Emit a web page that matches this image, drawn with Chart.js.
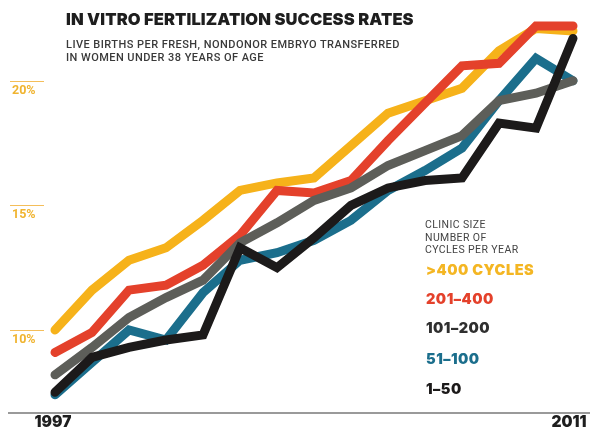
<!DOCTYPE html>
<html>
<head>
<meta charset="utf-8">
<script src="https://cdn.jsdelivr.net/npm/chart.js@4.4.1/dist/chart.umd.min.js"></script>
<style>
  body { margin: 0; background: #fff; }
  #wrap { position: relative; width: 590px; height: 436px; overflow: hidden; }
  .txt { position: absolute; white-space: nowrap; font-family: 'Inter', 'DejaVu Sans', sans-serif; }
  #title { left: 66px; top: 9px; font-size: 16.5px; font-weight: 900; color: #1e1e1e; letter-spacing: 0.1px; }
  #sub { left: 66px; top: 39px; font-size: 11px; line-height: 12.5px; color: #3a3a3a; font-family: 'Roboto', sans-serif; font-weight: 500; letter-spacing: 0.45px; }
  #legHead { left: 425px; top: 219px; font-size: 10.5px; line-height: 12.5px; color: #444; font-family: 'Roboto', sans-serif; letter-spacing: 0.4px; }
  .leg { left: 426px; font-size: 14.5px; font-weight: 900; letter-spacing: 0.5px; }
</style>
</head>
<body>
<div id="wrap">
  <canvas id="ivf" width="590" height="436"></canvas>
  <div class="txt" id="title">IN VITRO FERTILIZATION SUCCESS RATES</div>
  <div class="txt" id="sub">LIVE BIRTHS PER FRESH, NONDONOR EMBRYO TRANSFERRED<br>IN WOMEN UNDER 38 YEARS OF AGE</div>
  <div class="txt" id="legHead">CLINIC SIZE<br>NUMBER OF<br>CYCLES PER YEAR</div>
</div>
<script>
const years = ['1997','1998','1999','2000','2001','2002','2003','2004','2005','2006','2007','2008','2009','2010','2011'];
const seriesNames = ['>400 CYCLES', '201\u2013400', '101\u2013200', '51\u2013100', '1\u201350'];
const over400   = [10.0, 11.6, 12.8, 13.3, 14.4, 15.6, 15.9, 16.1, 17.4, 18.7, 19.2, 19.7, 21.2, 22.1, 22.0];
const c201to400 = [9.1, 9.9, 11.6, 11.8, 12.6, 13.8, 15.6, 15.5, 16.0, 17.6, 19.1, 20.6, 20.7, 22.2, 22.2];
const c101to200 = [8.2, 9.3, 10.5, 11.3, 12.0, 13.5, 14.3, 15.2, 15.7, 16.6, 17.2, 17.8, 19.2, 19.5, 20.0];
const c51to100  = [7.4, 8.7, 10.0, 9.6, 11.5, 12.8, 13.1, 13.6, 14.4, 15.6, 16.4, 17.3, 19.2, 20.9, 20.0];
const c1to50    = [7.5, 8.9, 9.3, 9.6, 9.8, 13.3, 12.5, 13.7, 15.0, 15.7, 16.0, 16.1, 18.3, 18.1, 21.7];
const yTicks = [10, 15, 20];

const lineColors = ['#F6B21A', '#E4412B', '#5D5E59', '#1B6E8C', '#1C1A1A'];
const legendColors = ['#F4B623', '#E4412B', '#2f2f2f', '#1B6E8C', '#1C1A1A'];
const drawOrder = [5, 3, 2, 4, 1]; // lower = on top

// legend labels as html text
const legTops = [261, 290, 319, 350, 380];
seriesNames.forEach((n, i) => {
    const d = document.createElement('div');
    d.className = 'txt leg';
    d.style.top = legTops[i] + 'px';
    d.style.color = legendColors[i];
    d.textContent = n;
    document.getElementById('wrap').appendChild(d);
});

// axis line, year labels and the short percent ticks
const decor = {
    id: 'decor',
    beforeDatasetsDraw(chart) {
        const { ctx, chartArea, scales } = chart;
        ctx.save();
        yTicks.forEach(v => {
            const y = Math.round(scales.y.getPixelForValue(v)) + 0.5;
            ctx.strokeStyle = '#F4BE5A';
            ctx.lineWidth = 1;
            ctx.beginPath();
            ctx.moveTo(10, y);
            ctx.lineTo(44, y);
            ctx.stroke();
            ctx.fillStyle = '#F0B430';
            ctx.font = "bold 12.5px 'Roboto', sans-serif";
            ctx.textAlign = 'left';
            ctx.textBaseline = 'top';
            ctx.fillText(v + '%', 12, y + 3);
        });
        // bottom axis
        ctx.strokeStyle = '#9a9a9a';
        ctx.lineWidth = 2;
        ctx.beginPath();
        ctx.moveTo(8, chartArea.bottom);
        ctx.lineTo(chart.width, chartArea.bottom);
        ctx.stroke();
        ctx.fillStyle = '#1e1e1e';
        ctx.font = "900 15.5px 'Inter', sans-serif";
        ctx.textBaseline = 'middle';
        ctx.textAlign = 'center';
        ctx.fillText(years[0], scales.x.getPixelForValue(0) - 2, chartArea.bottom + 9);
        ctx.fillText(years[years.length - 1], scales.x.getPixelForValue(years.length - 1) - 4, chartArea.bottom + 9);
        ctx.restore();
    }
};

const allSeries = [over400, c201to400, c101to200, c51to100, c1to50];

new Chart(document.getElementById('ivf'), {
    type: 'line',
    data: {
        labels: years,
        datasets: allSeries.map((s, i) => ({
            label: seriesNames[i],
            data: s,
            borderColor: lineColors[i],
            borderWidth: 9,
            borderCapStyle: 'round',
            borderJoinStyle: 'miter',
            pointRadius: 0,
            tension: 0,
            fill: false,
            order: drawOrder[i],
            clip: 10
        }))
    },
    options: {
        responsive: false,
        animation: false,
        layout: { padding: { left: 55, right: 17, top: 6, bottom: 23 } },
        plugins: { legend: { display: false }, tooltip: { enabled: false } },
        scales: {
            x: { display: false, offset: false },
            y: { display: false, min: 6.67, max: 23 }
        }
    },
    plugins: [decor]
});
</script>
</body>
</html>
